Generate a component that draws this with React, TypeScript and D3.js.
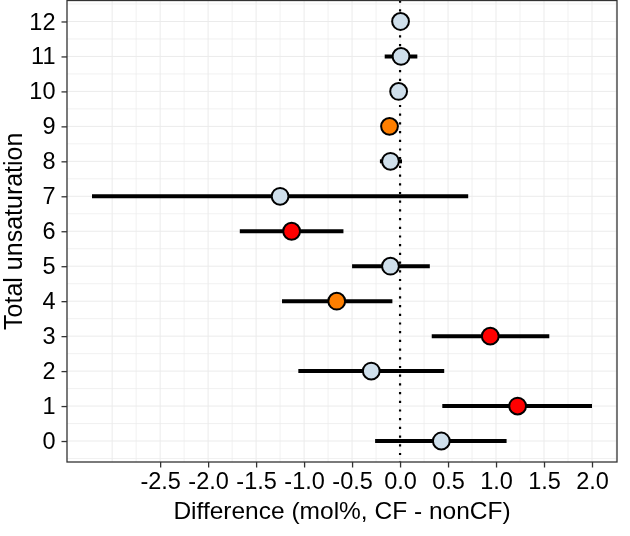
import { useEffect, useRef } from 'react';
import * as d3 from 'd3';

// Total unsaturation levels (y) and CF - nonCF differences (x)
const levels = [0, 1, 2, 3, 4, 5, 6, 7, 8, 9, 10, 11, 12];
const estimate = [0.43, 1.225, -0.3, 0.94, -0.66, -0.1, -1.13, -1.25, -0.1, -0.11, -0.015, 0.01, 0.005];
const lower = [-0.26, 0.44, -1.06, 0.33, -1.23, -0.5, -1.67, -3.21, -0.21, -0.15, -0.06, -0.16, -0.03];
const upper = [1.11, 2.0, 0.46, 1.555, -0.08, 0.31, -0.59, 0.71, 0.02, -0.07, 0.03, 0.18, 0.04];
const signif = ['ns', 'p01', 'ns', 'p01', 'p05', 'ns', 'p01', 'ns', 'ns', 'p05', 'ns', 'ns', 'ns'];

const xTicks = [-2.5, -2.0, -1.5, -1.0, -0.5, 0.0, 0.5, 1.0, 1.5, 2.0];

const fillColors: Record<string, string> = {
  ns: '#cfdfeb',
  p05: '#ff7f00',
  p01: '#ff0000',
};

export default function App() {
  const svgRef = useRef<SVGSVGElement>(null);

  useEffect(() => {
    if (!svgRef.current) return;
    const width = 630;
    const height = 536;
    const margin = { top: 0.5, right: 13, bottom: 74, left: 67 };
    const innerWidth = width - margin.left - margin.right;
    const innerHeight = height - margin.top - margin.bottom;
    const font = "'Liberation Sans', Arial, sans-serif";

    const svg = d3.select(svgRef.current);
    svg.selectAll('*').remove();
    svg.attr('width', width).attr('height', height);

    const rows = levels.map((lv, i) => ({
      level: lv,
      est: estimate[i],
      lo: lower[i],
      hi: upper[i],
      sig: signif[i],
    }));

    // ggplot-like 5% expansion
    const xMin = d3.min(rows, (d) => Math.min(d.lo, d.est)) ?? 0;
    const xMax = d3.max(rows, (d) => Math.max(d.hi, d.est)) ?? 0;
    const xPad = (xMax - xMin) * 0.05;
    const yMin = d3.min(levels) ?? 0;
    const yMax = d3.max(levels) ?? 0;
    const yPad = (yMax - yMin) * 0.05;

    const xScale = d3.scaleLinear().domain([xMin - xPad, xMax + xPad]).range([0, innerWidth]);
    const yScale = d3.scaleLinear().domain([yMin - yPad, yMax + yPad]).range([innerHeight, 0]);

    const g = svg.append('g').attr('transform', `translate(${margin.left},${margin.top})`);

    g.append('rect')
      .attr('width', innerWidth)
      .attr('height', innerHeight)
      .attr('fill', '#ffffff');

    // Grid lines (major + minor)
    const xGrid = d3.range(-3.0, 2.26, 0.25).filter((v) => v >= xScale.domain()[0] && v <= xScale.domain()[1]);
    const yGrid = d3.range(-0.5, 12.51, 0.5);

    g.append('g')
      .selectAll('line')
      .data(xGrid)
      .join('line')
      .attr('x1', (d) => xScale(d))
      .attr('x2', (d) => xScale(d))
      .attr('y1', 0)
      .attr('y2', innerHeight)
      .attr('stroke', '#ebebeb')
      .attr('stroke-width', (d) => (Math.abs(d * 2 - Math.round(d * 2)) < 1e-6 ? 1 : 0.7));

    g.append('g')
      .selectAll('line')
      .data(yGrid)
      .join('line')
      .attr('x1', 0)
      .attr('x2', innerWidth)
      .attr('y1', (d) => yScale(d))
      .attr('y2', (d) => yScale(d))
      .attr('stroke', '#ebebeb')
      .attr('stroke-width', (d) => (Number.isInteger(d) ? 1 : 0.7));

    // Zero reference line
    g.append('line')
      .attr('x1', xScale(0))
      .attr('x2', xScale(0))
      .attr('y1', 0)
      .attr('y2', innerHeight)
      .attr('stroke', '#000')
      .attr('stroke-width', 2.2)
      .attr('stroke-dasharray', '2.2,6.5');

    // Error bars
    g.append('g')
      .selectAll('line')
      .data(rows)
      .join('line')
      .attr('x1', (d) => xScale(d.lo))
      .attr('x2', (d) => xScale(d.hi))
      .attr('y1', (d) => yScale(d.level))
      .attr('y2', (d) => yScale(d.level))
      .attr('stroke', '#000')
      .attr('stroke-width', 4);

    // Points
    g.append('g')
      .selectAll('circle')
      .data(rows)
      .join('circle')
      .attr('cx', (d) => xScale(d.est))
      .attr('cy', (d) => yScale(d.level))
      .attr('r', 8.4)
      .attr('fill', (d) => fillColors[d.sig])
      .attr('stroke', '#000')
      .attr('stroke-width', 2);

    // Panel border
    g.append('rect')
      .attr('width', innerWidth)
      .attr('height', innerHeight)
      .attr('fill', 'none')
      .attr('stroke', '#333333')
      .attr('stroke-width', 1.3);

    // X axis
    g.append('g')
      .attr('transform', `translate(0,${innerHeight})`)
      .call(
        d3.axisBottom(xScale)
          .tickValues(xTicks)
          .tickSize(5.5)
          .tickPadding(5)
          .tickFormat((d) => Number(d).toFixed(1))
      )
      .call((gg) => {
        gg.select('.domain').remove();
        gg.selectAll('.tick line').attr('stroke', '#333333').attr('stroke-width', 1.3);
        gg.selectAll('.tick text')
          .attr('fill', '#000')
          .attr('font-size', '23.5px')
          .attr('font-family', font);
      });

    // Y axis
    g.append('g')
      .call(
        d3.axisLeft(yScale)
          .tickValues(levels)
          .tickSize(5.5)
          .tickPadding(6)
          .tickFormat((d) => String(d))
      )
      .call((gg) => {
        gg.select('.domain').remove();
        gg.selectAll('.tick line').attr('stroke', '#333333').attr('stroke-width', 1.3);
        gg.selectAll('.tick text')
          .attr('fill', '#000')
          .attr('font-size', '23.5px')
          .attr('font-family', font);
      });

    // Axis titles
    svg.append('text')
      .attr('x', margin.left + innerWidth / 2)
      .attr('y', 519)
      .attr('text-anchor', 'middle')
      .attr('fill', '#000')
      .attr('font-size', '24.5px')
      .attr('font-family', font)
      .text('Difference (mol%, CF - nonCF)');

    svg.append('text')
      .attr('transform', `translate(22,${margin.top + innerHeight / 2}) rotate(-90)`)
      .attr('text-anchor', 'middle')
      .attr('fill', '#000')
      .attr('font-size', '25px')
      .attr('font-family', font)
      .text('Total unsaturation');
  }, []);

  return (
    <div style={{ position: 'fixed', left: 0, top: 0 }}>
      <svg ref={svgRef} style={{ display: 'block' }} />
    </div>
  );
}
